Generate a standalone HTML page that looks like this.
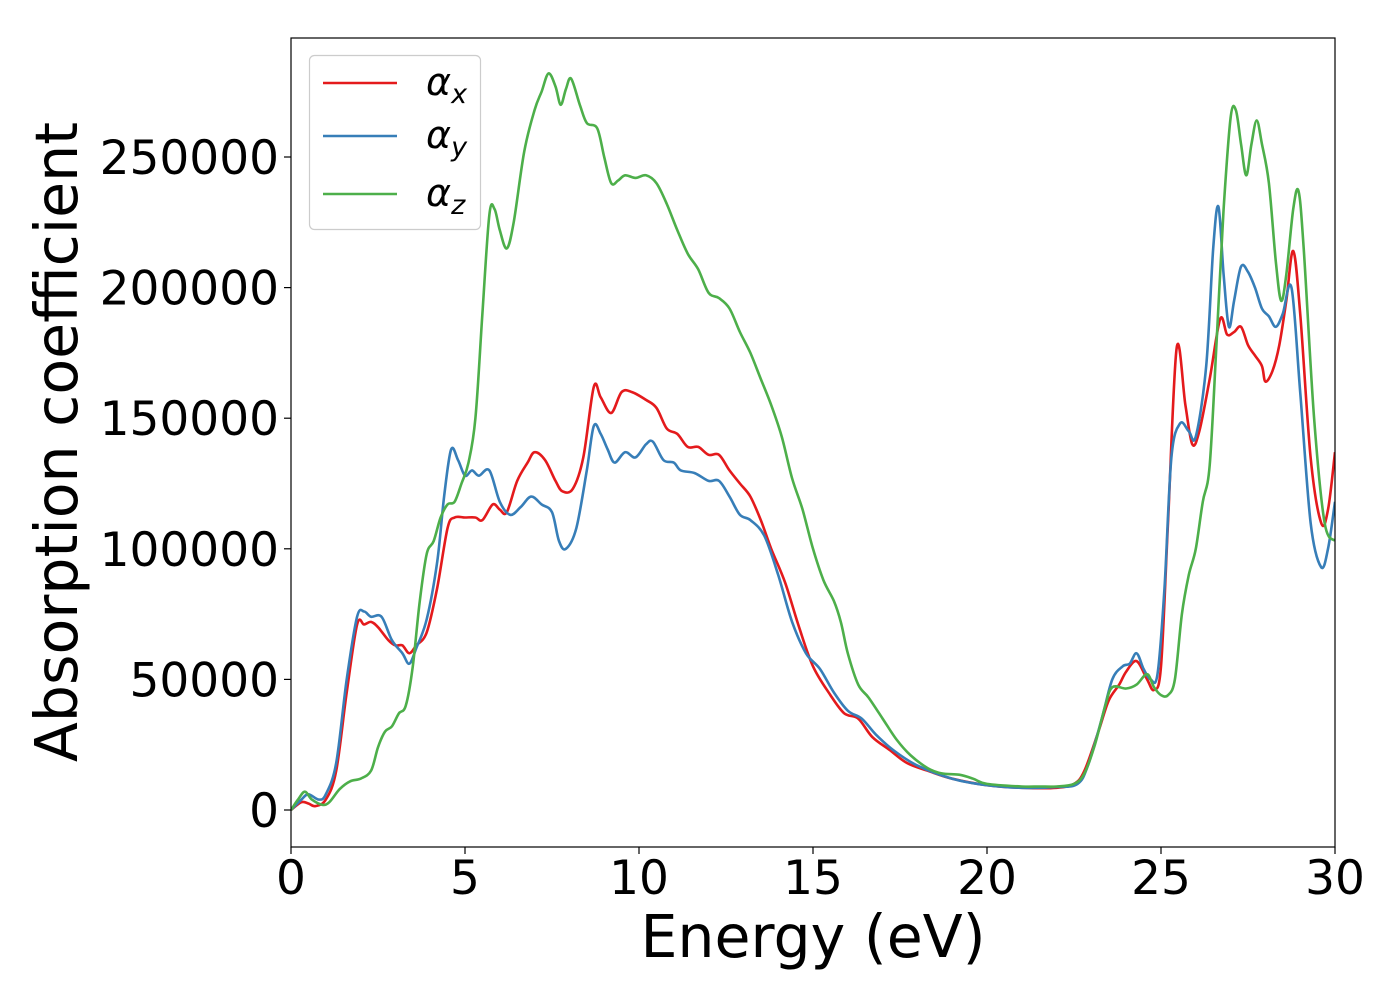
<!DOCTYPE html>
<html><head><meta charset="utf-8"><style>
body{margin:0;background:#fff;}
svg{display:block;font-family:"DejaVu Sans","Liberation Sans",sans-serif;}
</style></head><body>
<svg id="chart" width="1400" height="1000">
<g id="plot"></g>
</svg>
<script>
const seriesNames = ["αx","αy","αz"];
const xTicks = [0,5,10,15,20,25,30];
const yTicks = [0,50000,100000,150000,200000,250000];
const redX = [0,0.3,0.5,0.7,1.0,1.3,1.6,1.9,2.1,2.3,2.5,2.8,3.0,3.2,3.4,3.6,3.9,4.2,4.5,4.7,5.0,5.3,5.5,5.8,6.0,6.2,6.5,6.8,7.0,7.3,7.6,7.8,8.1,8.4,8.7,8.9,9.2,9.5,9.8,10.2,10.5,10.8,11.1,11.4,11.7,12.0,12.3,12.6,12.9,13.2,13.5,13.8,14.2,14.6,15.0,15.5,15.9,16.3,16.7,17.2,17.7,18.3,19,20,21,22,22.5,22.8,23.2,23.5,23.8,24.0,24.3,24.6,24.8,25.0,25.2,25.45,25.7,25.9,26.1,26.4,26.7,26.9,27.1,27.3,27.5,27.7,27.9,28.0,28.2,28.4,28.6,28.8,29.0,29.3,29.6,29.8,30];
const redY = [0,3000,2500,1500,4000,15000,45000,71000,71000,72000,70000,65000,63000,63000,60000,63000,68000,85000,108000,112000,112000,112000,111000,117000,115000,114000,126000,133000,137000,134000,126000,122000,123000,135000,162000,158000,152000,160000,160000,157000,154000,146000,144000,139000,139000,136000,136000,130000,125000,120000,111000,100000,87000,70000,55000,44000,37000,35000,28000,23000,18000,15000,12000,9500,8500,8500,10000,15000,30000,42000,48000,53000,57000,50000,46000,55000,110000,177000,155000,140000,145000,165000,188000,182000,183000,185000,178000,174000,170000,164000,168000,178000,195000,214000,190000,135000,110000,115000,137000];
const blueX = [0,0.3,0.5,0.8,1.0,1.3,1.6,1.9,2.1,2.3,2.6,2.9,3.2,3.4,3.6,3.9,4.2,4.4,4.6,4.8,5.0,5.2,5.4,5.7,6.0,6.3,6.6,6.9,7.2,7.5,7.7,7.9,8.2,8.5,8.7,8.9,9.1,9.3,9.6,9.9,10.2,10.4,10.7,11.0,11.2,11.6,12.0,12.3,12.6,12.9,13.2,13.6,14.0,14.4,14.8,15.2,15.6,16.0,16.4,16.8,17.3,18,19,20,21,22,22.6,22.9,23.3,23.6,23.9,24.1,24.3,24.5,24.7,24.9,25.1,25.3,25.55,25.8,26.0,26.3,26.5,26.65,26.8,26.95,27.1,27.3,27.5,27.7,27.9,28.1,28.3,28.5,28.75,29.0,29.3,29.6,29.8,30];
const blueY = [0,4000,6000,4000,6000,18000,50000,74000,76000,74000,74000,65000,60000,56000,62000,73000,95000,120000,138000,134000,128000,130000,128000,130000,118000,113000,116000,120000,117000,114000,103000,100000,108000,130000,147000,144000,138000,133000,137000,135000,140000,141000,134000,133000,130000,129000,126000,126000,120000,113000,111000,105000,90000,72000,60000,54000,45000,38000,35000,29000,23000,17000,12000,9500,8500,8800,10000,17000,35000,50000,55000,56000,60000,54000,50000,52000,85000,135000,148000,145000,143000,170000,215000,231000,205000,185000,195000,208000,206000,200000,192000,189000,185000,190000,200000,160000,110000,93000,100000,118000];
const greenX = [0,0.2,0.4,0.6,0.9,1.1,1.4,1.7,2.0,2.3,2.5,2.7,2.9,3.1,3.3,3.5,3.7,3.9,4.1,4.3,4.5,4.7,4.9,5.1,5.3,5.5,5.7,5.85,6.0,6.2,6.4,6.7,7.0,7.2,7.4,7.6,7.75,7.9,8.05,8.3,8.5,8.8,9.0,9.2,9.4,9.6,9.9,10.2,10.5,10.8,11.1,11.4,11.7,12.0,12.3,12.6,12.9,13.2,13.5,13.8,14.1,14.4,14.7,15.0,15.3,15.6,15.8,16.0,16.3,16.6,17.0,17.4,17.8,18.3,18.7,19.2,19.6,20,21,21.5,22,22.5,22.8,23.1,23.4,23.6,24.0,24.3,24.6,24.8,25.0,25.2,25.4,25.6,25.8,26.0,26.2,26.4,26.6,26.8,27.0,27.15,27.3,27.45,27.6,27.75,27.9,28.1,28.3,28.45,28.6,28.8,28.95,29.1,29.4,29.7,30];
const greenY = [0,4000,7000,4000,2000,3000,8000,11000,12000,15000,24000,30000,32000,37000,40000,55000,80000,98000,103000,112000,117000,118000,125000,133000,150000,190000,228000,230000,222000,215000,225000,252000,268000,275000,282000,277000,270000,276000,280000,270000,263000,261000,250000,240000,241000,243000,242000,243000,240000,232000,222000,213000,207000,198000,196000,192000,183000,175000,165000,155000,143000,127000,115000,100000,88000,80000,72000,60000,48000,43000,35000,27000,21000,16000,14000,13500,12000,10000,9000,9000,9000,10000,14000,25000,40000,47000,46500,48000,52000,47000,44000,44000,50000,75000,90000,100000,118000,132000,180000,230000,265000,268000,255000,243000,255000,264000,255000,240000,210000,195000,205000,230000,237000,215000,150000,110000,103000];

const NS="http://www.w3.org/2000/svg";
const L=291,R=1335,T=38,B=847;
const xMin=0,xMax=30,yMin=-14165,yMax=295560;
const sx=v=>L+(v-xMin)/(xMax-xMin)*(R-L);
const sy=v=>B-(v-yMin)/(yMax-yMin)*(B-T);
const svg=document.getElementById('chart');
const plot=document.getElementById('plot');
function mk(tag,attrs,parent){const e=document.createElementNS(NS,tag);for(const k in attrs)e.setAttribute(k,attrs[k]);(parent||svg).appendChild(e);return e;}
function smooth(pts){
  let d='M'+pts[0][0].toFixed(1)+','+pts[0][1].toFixed(1);
  for(let i=0;i<pts.length-1;i++){
    const p0=pts[Math.max(0,i-1)],p1=pts[i],p2=pts[i+1],p3=pts[Math.min(pts.length-1,i+2)];
    const c1=[p1[0]+(p2[0]-p0[0])/6,p1[1]+(p2[1]-p0[1])/6];
    const c2=[p2[0]-(p3[0]-p1[0])/6,p2[1]-(p3[1]-p1[1])/6];
    d+=' C'+c1[0].toFixed(1)+','+c1[1].toFixed(1)+' '+c2[0].toFixed(1)+','+c2[1].toFixed(1)+' '+p2[0].toFixed(1)+','+p2[1].toFixed(1);
  }
  return d;
}

const cp=mk('clipPath',{id:'clip'});mk('rect',{x:L,y:T,width:R-L,height:B-T},cp);
const colors=["#e41a1c","#377eb8","#4daf4a"];
const data=[[redX,redY],[blueX,blueY],[greenX,greenY]];
const lineNames=['alpha-x-line','alpha-y-line','alpha-z-line'];
data.forEach((d,i)=>{
  const pts=d[0].map((x,j)=>[sx(x),sy(d[1][j])]);
  const pl=mk('path',{d:smooth(pts),fill:'none',stroke:colors[i],'stroke-width':2.6,'stroke-linejoin':'round','clip-path':'url(#clip)'},plot);
  
  
});
const frame=mk('rect',{x:L,y:T,width:R-L,height:B-T,fill:'none',stroke:'#000','stroke-width':1.2});



xTicks.forEach(v=>{
  const x=sx(v);
  const tk=mk('line',{x1:x,x2:x,y1:B,y2:B+7,stroke:'#000','stroke-width':1.2});
  
  
  const t=mk('text',{x:x,y:B+47,'text-anchor':'middle','font-size':47});
  t.textContent=v;
  
  
});
yTicks.forEach(v=>{
  const y=sy(v);
  const tk=mk('line',{x1:L-7,x2:L,y1:y,y2:y,stroke:'#000','stroke-width':1.2});
  
  
  const t=mk('text',{x:L-12,y:y+17,'text-anchor':'end','font-size':47});
  t.textContent=v;
  
  
});
const xl=mk('text',{x:813,y:957,'text-anchor':'middle','font-size':58.5});
xl.textContent='Energy (eV)';


const yl=mk('text',{x:0,y:0,'text-anchor':'middle','font-size':58.5,transform:'translate(77,442) rotate(-90)'});
yl.textContent='Absorption coefficient';



const lg=mk('g',{});


mk('rect',{x:309.5,y:55.5,width:171,height:174,rx:5,fill:'#fff','fill-opacity':0.8,stroke:'#ccc','stroke-width':1.2},lg);
const subs=['x','y','z'];
[83,136,194].forEach((y,i)=>{
  const ln=mk('line',{x1:323,x2:397,y1:y,y2:y,stroke:colors[i],'stroke-width':2.6},lg);
  
  
  const t=mk('text',{x:426,y:y+12,'font-size':38,'font-style':'italic'},lg);
  
  
  t.textContent='α';
  const s=mk('tspan',{'font-size':27,dy:8},t);
  s.textContent=subs[i];
});
</script>
</body></html>
